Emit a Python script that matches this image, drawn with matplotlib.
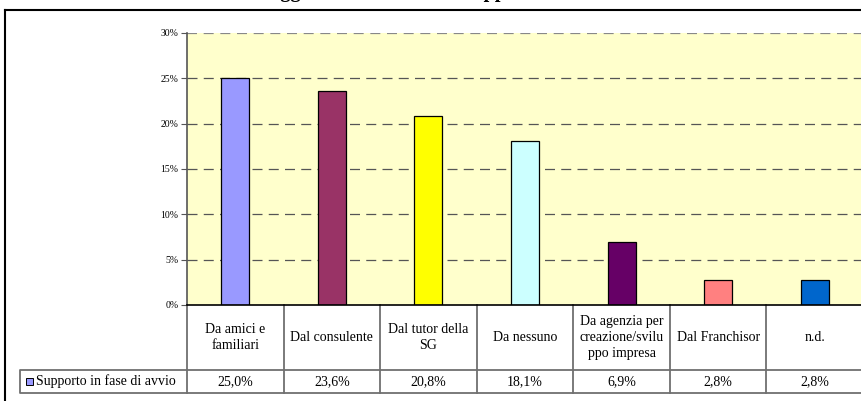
import matplotlib
matplotlib.use("Agg")
import matplotlib.pyplot as plt
from matplotlib.patches import Rectangle
from matplotlib.lines import Line2D

# data
categories = ["Da amici e\nfamiliari", "Dal consulente", "Dal tutor della\nSG",
              "Da nessuno", "Da agenzia per\ncreazione/svilu\nppo impresa",
              "Dal Franchisor", "n.d."]
values = [25.0, 23.6, 20.8, 18.1, 6.9, 2.8, 2.8]
value_labels = ["25,0%", "23,6%", "20,8%", "18,1%", "6,9%", "2,8%", "2,8%"]
bar_colors = ["#9999FF", "#993366", "#FFFF00", "#CCFFFF", "#660066", "#FF8080", "#0066CC"]
series_name = "Supporto in fase di avvio"
yticks = [0, 5, 10, 15, 20, 25, 30]
title = "Soggetto che ha fornito supporto"

plt.rcParams["font.family"] = ["Liberation Serif", "DejaVu Serif"]

W, H = 861, 401
fig = plt.figure(figsize=(W / 100, H / 100), dpi=100)

# pixel layout helpers
ax_l, ax_r, ax_t, ax_b = 187, 863, 33, 305
ax = fig.add_axes([ax_l / W, 1 - ax_b / H, (ax_r - ax_l) / W, (ax_b - ax_t) / H])
ax.set_facecolor("#FFFFCC")

n = len(categories)
ax.bar(range(n), values, width=0.29, color=bar_colors, edgecolor="black",
       linewidth=0.9, zorder=3)
ax.set_xlim(-0.5, n - 0.5)
ax.set_ylim(0, 30)
ax.set_yticks(yticks)
ax.set_yticklabels([f"{t}%" for t in yticks], fontsize=7)
ax.set_xticks([])
ax.tick_params(axis="y", length=4, width=0.8, color="#555555", pad=2)
for t in yticks[1:]:
    ax.axhline(t, color="#555555" if t < 30 else "#888888", lw=0.9 if t < 30 else 1.6,
               dashes=(8, 5) if t < 30 else (4.5, 3), zorder=1)

for s in ["top", "right"]:
    ax.spines[s].set_visible(False)
ax.spines["left"].set_color("#555555")
ax.spines["left"].set_linewidth(1.2)
ax.spines["bottom"].set_color("black")
ax.spines["bottom"].set_linewidth(1.2)
ax.spines["bottom"].set_zorder(4)


def py(y):
    # pixel row -> axes fraction
    return (ax_b - y) / (ax_b - ax_t)


colw = (ax_r - ax_l) / n
tr = ax.get_xaxis_transform()
grid_c = "#707070"
fs = 10

# category row
row1_b, row2_b = 370, 393
for i in range(n + 1):
    x = i - 0.5
    ax.add_line(Line2D([x, x], [0, py(row1_b)], transform=tr, color=grid_c,
                       lw=1.3, clip_on=False))
for i, c in enumerate(categories):
    ax.text(i, py((ax_b + row1_b) / 2), c, transform=tr, ha="center", va="center",
            fontsize=fs, linespacing=1.35, clip_on=False)

# legend row
x_left = -0.5 - (ax_l - 20) / colw
ax.add_line(Line2D([-0.5, x_left, x_left, n + 1], [py(row1_b), py(row1_b), py(row2_b), py(row2_b)],
                   transform=tr, color=grid_c, lw=1.3, clip_on=False))
ax.add_line(Line2D([-0.5, n + 1], [py(row1_b), py(row1_b)], transform=tr,
                   color=grid_c, lw=1.3, clip_on=False))
for i in range(n + 1):
    x = i - 0.5
    ax.add_line(Line2D([x, x], [py(row1_b), py(row2_b)], transform=tr, color=grid_c,
                       lw=1.3, clip_on=False))
ymid = py((row1_b + row2_b) / 2)
sq = 7 / colw
ax.add_patch(Rectangle((x_left + 6 / colw, ymid - 3.5 / (ax_b - ax_t)), sq, 7 / (ax_b - ax_t),
                       transform=tr, facecolor=bar_colors[0], edgecolor="black",
                       lw=0.7, clip_on=False))
ax.text(x_left + 16 / colw, ymid, series_name, transform=tr, ha="left", va="center",
        fontsize=fs, clip_on=False)
for i, v in enumerate(value_labels):
    ax.text(i, ymid, v, transform=tr, ha="center", va="center", fontsize=fs,
            clip_on=False)

# outer frame
fig.add_artist(Line2D([5 / W, 5 / W], [0, 1 - 10 / H], color="black", lw=1.5))
fig.add_artist(Line2D([5 / W, 1], [1 - 10 / H, 1 - 10 / H], color="black", lw=1.5))

# title, mostly cut off by the top edge
fig.text(0.465, 1 + 3 / H, title, ha="center", va="baseline", fontsize=14.6,
         fontweight="bold")

fig.savefig("out.png", dpi=100)
